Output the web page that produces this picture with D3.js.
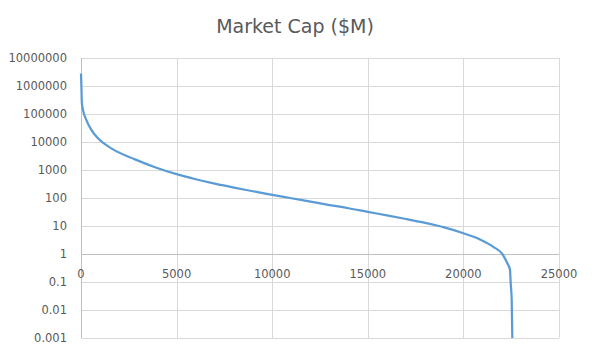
<!DOCTYPE html>
<html>
<head>
<meta charset="utf-8">
<script src="https://cdn.jsdelivr.net/npm/d3@7"></script>
<style>
  body { margin: 0; background: #fff; }
  svg { display: block; }
</style>
</head>
<body>
<div id="chart"></div>
<script>
// values: rank of company vs. market cap ($M)
var ranks = [0, 20, 45, 105, 277, 540, 890, 1586, 2824, 3870, 5000, 6000, 7000, 8000, 9000,
             10000, 11000, 12000, 13000, 14000, 15000, 16000, 17000, 18000, 19000, 20000,
             20868, 21564, 22035, 22296, 22437, 22474, 22526, 22558];
var caps = [2800000, 1000000, 250000, 138000, 62000, 27000, 13500, 5900, 2400, 1260, 708, 468,
            324, 234, 174, 129, 98, 74, 56, 43, 32, 24, 17.8, 12.9, 8.9, 5.5,
            3.3, 1.8, 1.0, 0.47, 0.27, 0.09, 0.023, 0.001];
var xTicks = [0, 5000, 10000, 15000, 20000, 25000];
var yTicks = [0.001, 0.01, 0.1, 1, 10, 100, 1000, 10000, 100000, 1000000, 10000000];
var yTickLabels = ["0.001", "0.01", "0.1", "1", "10", "100", "1000", "10000", "100000", "1000000", "10000000"];
var title = "Market Cap ($M)";

var W = 593, H = 356;
var margin = {top: 58, right: 34, bottom: 18, left: 81},
    width = W - margin.left - margin.right,
    height = H - margin.top - margin.bottom;

var svg = d3.select("#chart").append("svg")
    .attr("width", W)
    .attr("height", H);

var g = svg.append("g")
    .attr("transform", "translate(" + margin.left + "," + margin.top + ")");

var x = d3.scaleLinear().domain([0, 25000]).range([0, width]);
var y = d3.scaleLog().domain([0.001, 10000000]).range([height, 0]);

// gridlines
g.selectAll(".hgrid").data(yTicks).enter().append("line")
    .attr("class", "hgrid")
    .attr("x1", 0).attr("x2", width)
    .attr("y1", d => Math.round(y(d)) + 0.5).attr("y2", d => Math.round(y(d)) + 0.5)
    .attr("stroke", "#d9d9d9").attr("stroke-width", 1);

g.selectAll(".vgrid").data(xTicks.slice(1)).enter().append("line")
    .attr("class", "vgrid")
    .attr("x1", d => Math.round(x(d)) + 0.5).attr("x2", d => Math.round(x(d)) + 0.5)
    .attr("y1", 0).attr("y2", height)
    .attr("stroke", "#d9d9d9").attr("stroke-width", 1);

// axes lines (x axis crosses at 1)
g.append("line")
    .attr("x1", 0).attr("x2", width)
    .attr("y1", Math.round(y(1)) + 0.5).attr("y2", Math.round(y(1)) + 0.5)
    .attr("stroke", "#bfbfbf");
g.append("line")
    .attr("x1", 0.5).attr("x2", 0.5)
    .attr("y1", 0).attr("y2", height)
    .attr("stroke", "#bfbfbf");

// y tick labels
g.selectAll(".ylab").data(yTicks).enter().append("text")
    .attr("class", "ylab")
    .attr("x", -14)
    .attr("y", d => y(d))
    .attr("dy", "0.36em")
    .attr("text-anchor", "end")
    .style("font-family", "DejaVu Sans, sans-serif")
    .style("font-size", "11.5px")
    .style("fill", "#595959")
    .text((d, i) => yTickLabels[i]);

// x tick labels
g.selectAll(".xlab").data(xTicks).enter().append("text")
    .attr("class", "xlab")
    .attr("x", d => x(d))
    .attr("y", y(1) + 24)
    .attr("text-anchor", "middle")
    .style("font-family", "DejaVu Sans, sans-serif")
    .style("font-size", "11.5px")
    .style("fill", "#595959")
    .text(d => d);

// the curve
var pts = ranks.map((r, i) => [r, caps[i]]);
var line = d3.line()
    .curve(d3.curveMonotoneX)
    .x(d => x(d[0]))
    .y(d => y(d[1]));

g.append("path")
    .datum(pts)
    .attr("d", line)
    .attr("fill", "none")
    .attr("stroke", "#5b9bd5")
    .attr("stroke-width", 2.25)
    .attr("stroke-linejoin", "round");

// title
svg.append("text")
    .attr("x", 295)
    .attr("y", 33)
    .attr("text-anchor", "middle")
    .style("font-family", "DejaVu Sans, sans-serif")
    .style("font-size", "19px")
    .style("fill", "#595959")
    .text(title);
</script>
</body>
</html>
